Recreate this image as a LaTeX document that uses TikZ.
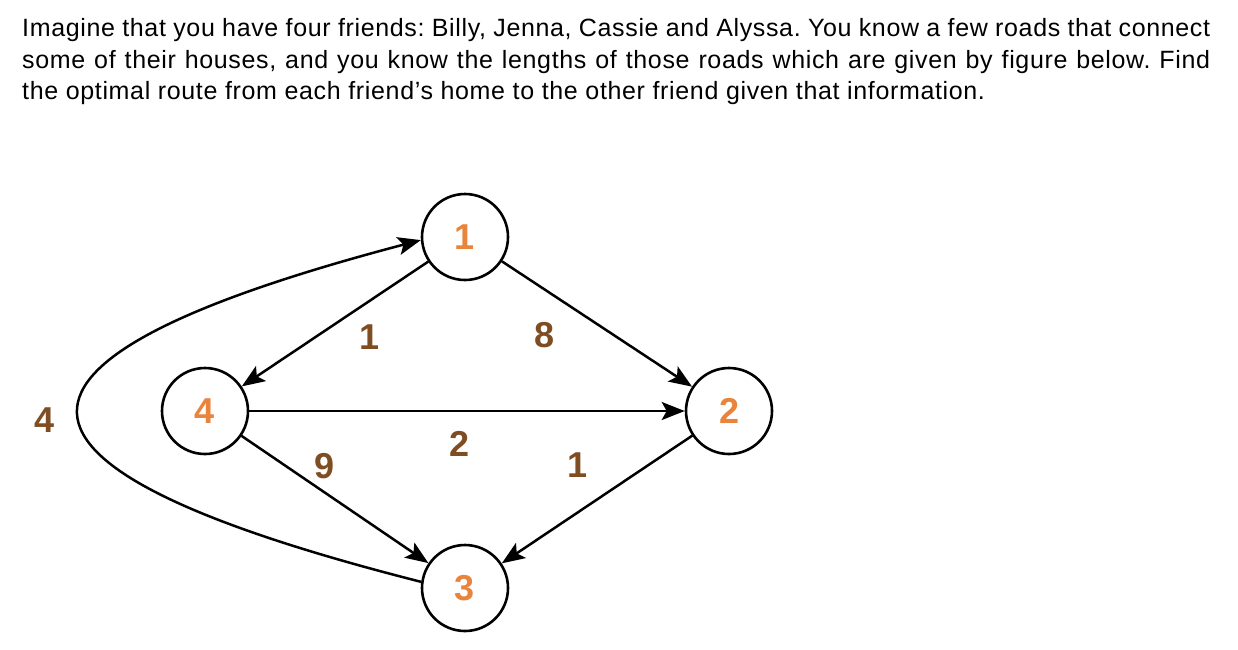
\documentclass[tikz,border=0pt]{standalone}
\usepackage{fontspec}
\setmainfont{Liberation Sans}
\newfontfamily\promptfont[LetterSpace=2.6]{Liberation Sans}
\usepackage{xcolor}
\usepackage{tikz}
\usetikzlibrary{arrows.meta,positioning}
\definecolor{houseorange}{HTML}{E8843C}
\definecolor{roadbrown}{HTML}{7E4E22}
\tikzset{
  house/.style={circle, draw=black, fill=white, line width=2.6pt, minimum size=86pt, inner sep=0pt, font=\fontsize{36}{40}\selectfont\bfseries, text=houseorange},
  weight/.style={inner sep=0pt, font=\fontsize{36}{40}\selectfont\bfseries, text=roadbrown},
  road/.style={-{Stealth[length=23pt, width=18pt, inset=5pt]}, line width=2.5pt, draw=black},
  prompt/.style={anchor=north west, inner sep=0pt, text width=1188pt, align=justify, font=\promptfont\fontsize{25}{31.5}\selectfont\frenchspacing}
}

\begin{document}
\begin{tikzpicture}[x=1pt, y=-1pt, on grid]
  \useasboundingbox (0,0) rectangle (1238,649);
  \node[prompt] (question) at (22,18.5) {Imagine that you have four friends: Billy, Jenna, Cassie and Alyssa. You know a few roads that connect\linebreak some of their houses, and you know the lengths of those roads which are given by figure below. Find\linebreak the optimal route from each friend’s home to the other friend given that information.};
  \node[house] (n1) at (465,237) {1};
  \node[house, below left=174pt and 260pt of n1] (n4) {4};
  \node[house, below right=174pt and 264pt of n1] (n2) {2};
  \node[house, below=351pt of n1] (n3) {3};
  \draw[road] (n1) -- node[weight, midway, shift={(35,13)}] {1} (n4);
  \draw[road] (n1) -- node[weight, midway, shift={(-52,11)}] {8} (n2);
  \draw[road] (n4) -- node[weight, midway, shift={(-7,33)}] {2} (n2);
  \draw[road] (n4) -- node[weight, midway, shift={(-10,-33)}] {9} (n3);
  \draw[road] (n2) -- node[weight, midway, shift={(-19,-34)}] {1} (n3);
  \draw[road] (n3.172) .. controls (-35,466) and (-35,360) .. node[weight, pos=0.5, shift={(-34,8)}] {4} (n1.184);
\end{tikzpicture}
\end{document}
